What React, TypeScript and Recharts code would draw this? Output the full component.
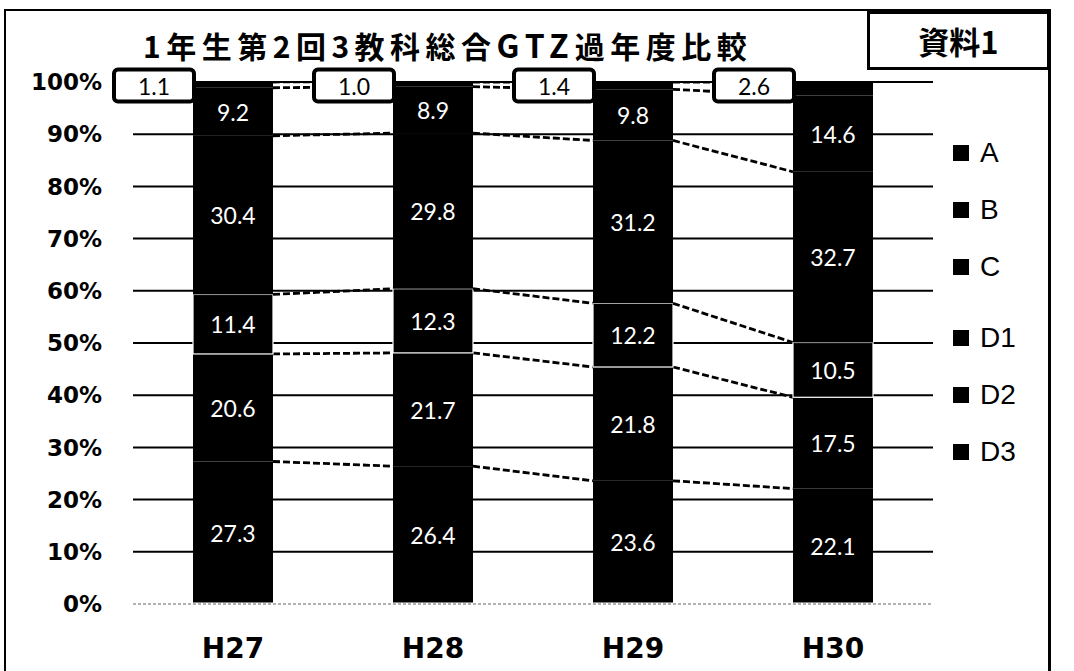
import React from 'react'
import { BarChart, Bar, XAxis, YAxis, CartesianGrid, ReferenceLine, LabelList, Legend } from 'recharts'

const years = ['H27', 'H28', 'H29', 'H30']
const valuesA = [1.1, 1.0, 1.4, 2.6]
const valuesB = [9.2, 8.9, 9.8, 14.6]
const valuesC = [30.4, 29.8, 31.2, 32.7]
const valuesD1 = [11.4, 12.3, 12.2, 10.5]
const valuesD2 = [20.6, 21.7, 21.8, 17.5]
const valuesD3 = [27.3, 26.4, 23.6, 22.1]
const percentTicks = [0, 10, 20, 30, 40, 50, 60, 70, 80, 90, 100]
const legendOrder = ['A', 'B', 'C', 'D1', 'D2', 'D3']

// stacked from the bottom up
const stack = [
  { key: 'D3', values: valuesD3 },
  { key: 'D2', values: valuesD2 },
  { key: 'D1', values: valuesD1 },
  { key: 'C', values: valuesC },
  { key: 'B', values: valuesB },
  { key: 'A', values: valuesA },
]

const data = years.map((year, i) => {
  const row: Record<string, string | number> = { year }
  stack.forEach((s) => {
    row[s.key] = s.values[i]
  })
  return row
})

const CAT_GAP = 0.3

const cumTop = (si: number, i: number) =>
  stack.slice(0, si + 1).reduce((sum, s) => sum + s.values[i], 0)

// segment rect + dashed series line over to the next bar
const segmentShape = (si: number) => (props: any) => {
  const { x, y, width, height, index } = props
  const v = stack[si].values[index]
  const ppu = height / v
  const zeroY = y + height + (cumTop(si, index) - v) * ppu
  const step = width / (1 - 2 * CAT_GAP)
  const isD1 = stack[si].key === 'D1'
  return (
    <g>
      <rect
        x={x}
        y={y}
        width={width}
        height={height}
        fill="#000"
        stroke={isD1 ? '#fff' : 'none'}
        strokeWidth={1.2}
      />
      {index < years.length - 1 && (
        <line
          x1={x + width}
          y1={y}
          x2={x + step}
          y2={zeroY - cumTop(si, index + 1) * ppu}
          stroke="#000"
          strokeWidth={2.8}
          strokeDasharray="7 3"
        />
      )}
    </g>
  )
}

const boxOf = (props: any) => {
  const vb = props.viewBox && props.viewBox.width !== undefined ? props.viewBox : props
  return { x: Number(vb.x), y: Number(vb.y), width: Number(vb.width), height: Number(vb.height) }
}

const WhiteLabel = (props: any) => {
  const { x, y, width, height } = boxOf(props)
  return (
    <text
      x={x + width / 2}
      y={y + height / 2}
      fill="#fff"
      fontSize={23}
      fontFamily="Lato, 'Open Sans', sans-serif"
      textAnchor="middle"
      dominantBaseline="central"
    >
      {Number(props.value).toFixed(1)}
    </text>
  )
}

const BoxLabel = (props: any) => {
  const { x, y } = boxOf(props)
  const w = 80
  const h = 32
  const cy = y + 3.5
  return (
    <g>
      <rect x={x - w + 1} y={cy - h / 2} width={w} height={h} rx={4} fill="#fff" stroke="#000" strokeWidth={4} />
      <text
        x={x - w / 2 + 1}
        y={cy}
        fill="#000"
        fontSize={23}
        fontFamily="Lato, 'Open Sans', sans-serif"
        textAnchor="middle"
        dominantBaseline="central"
      >
        {Number(props.value).toFixed(1)}
      </text>
    </g>
  )
}

const LegendList = () => (
  <div style={{ fontFamily: "'Liberation Sans', Arial, sans-serif", fontSize: 28, color: '#000' }}>
    {legendOrder.map((name) => (
      <div
        key={name}
        style={{ display: 'flex', alignItems: 'center', height: 57, marginTop: name === 'D1' ? 14 : 0 }}
      >
        <span style={{ width: 16, height: 16, background: '#000', marginRight: 11, display: 'inline-block' }} />
        <span>{name}</span>
      </div>
    ))}
  </div>
)

export default function App() {
  return (
    <div style={{ position: 'absolute', left: 0, top: 0, width: 1074, height: 671, background: '#fff', overflow: 'hidden' }}>
      <BarChart
        width={1074}
        height={671}
        data={data}
        margin={{ top: 82, right: 141, bottom: 0, left: 23 }}
        barCategoryGap={`${CAT_GAP * 100}%`}
      >
        <CartesianGrid vertical={false} stroke="#000" strokeWidth={2} />
        <XAxis
          dataKey="year"
          height={67}
          axisLine={false}
          tickLine={false}
          tickSize={0}
          tickMargin={34}
          tick={{ fontFamily: "'DejaVu Sans', sans-serif", fontWeight: 'bold', fontSize: 28, fill: '#000' }}
        />
        <YAxis
          type="number"
          width={110}
          domain={[0, 100]}
          ticks={percentTicks}
          interval={0}
          allowDataOverflow
          axisLine={false}
          tickLine={false}
          tickSize={0}
          tickMargin={31}
          tickFormatter={(v) => `${v}%`}
          tick={{ fontFamily: "'DejaVu Sans', sans-serif", fontWeight: 'bold', fontSize: 23, fill: '#000' }}
        />
        <ReferenceLine y={0} stroke="#fff" strokeWidth={3} />
        <ReferenceLine y={0} stroke="#999" strokeWidth={1.5} strokeDasharray="3 2" />
        {stack.map((s, si) => (
          <Bar
            key={s.key}
            dataKey={s.key}
            name={s.key}
            stackId="total"
            fill="#000"
            isAnimationActive={false}
            shape={segmentShape(si)}
          >
            <LabelList dataKey={s.key} content={s.key === 'A' ? BoxLabel : WhiteLabel} />
          </Bar>
        ))}
        <Legend
          layout="vertical"
          align="center"
          verticalAlign="middle"
          content={LegendList}
          wrapperStyle={{ position: 'absolute', left: 953, top: 124, width: 100 }}
        />
      </BarChart>

      <div
        style={{
          position: 'absolute',
          left: 4,
          top: 9,
          width: 1042,
          height: 700,
          border: '2px solid #000',
          borderRightWidth: 3,
          pointerEvents: 'none',
        }}
      />
      <div
        style={{
          position: 'absolute',
          left: 143,
          top: 27,
          fontFamily: "'Noto Sans CJK JP', sans-serif",
          fontWeight: 'bold',
          fontSize: 30,
          lineHeight: '34px',
          letterSpacing: 5.5,
          color: '#000',
          whiteSpace: 'nowrap',
        }}
      >
        1年生第2回3教科総合
        <span style={{ fontSize: 32, letterSpacing: 6 }}>GTZ</span>
        過年度比較
      </div>
      <div
        style={{
          position: 'absolute',
          left: 867,
          top: 11,
          width: 177,
          height: 53,
          border: '3px solid #000',
          background: '#fff',
          display: 'flex',
          alignItems: 'center',
          justifyContent: 'center',
          fontFamily: "'Noto Sans CJK JP', sans-serif",
          fontWeight: 'bold',
          fontSize: 31,
          color: '#000',
        }}
      >
        資料1
      </div>
    </div>
  )
}
